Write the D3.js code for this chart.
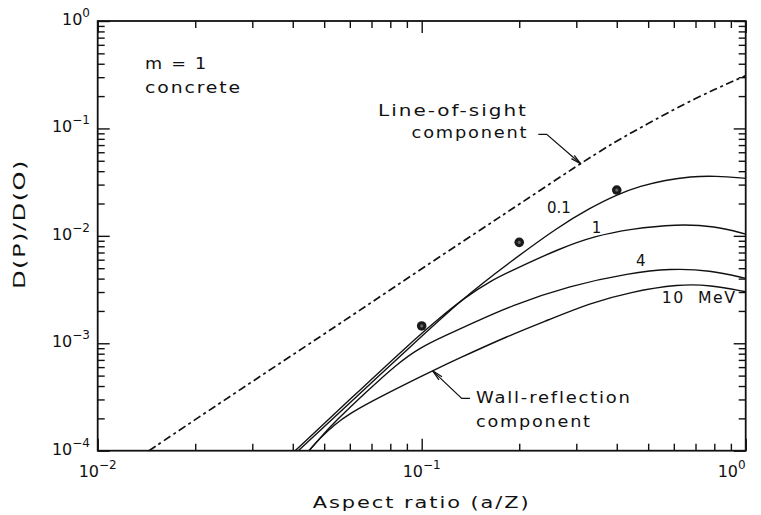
<!DOCTYPE html>
<html><head><meta charset="utf-8">
<script src="https://cdn.jsdelivr.net/npm/d3@7"></script>
<style>
body{margin:0;background:#fff}
text{font-family:"DejaVu Sans",sans-serif;fill:#111}
</style>
</head><body>
<svg id="c" width="761" height="515"></svg>
<script>
// ---- data ----
const xDomain = [0.01, 1];
const yDomain = [1e-4, 1];
const xTickExps = [-2, -1, 0];
const yTickExps = [-4, -3, -2, -1, 0];
const xTitle = "Aspect ratio (a/Z)";
const yTitle = "D(P)/D(O)";

const lineOfSight = [[0.0144,1.0e-4],[0.02,1.95e-4],[0.03,4.4e-4],[0.05,1.22e-3],[0.07,2.4e-3],[0.1,4.95e-3],
  [0.15,0.0111],[0.2,0.0197],[0.3,0.0445],[0.4,0.077],[0.5,0.111],[0.6,0.150],[0.7,0.190],[0.8,0.230],[0.9,0.270],[1.0,0.31]];
const mev01 = [[0.04159,1e-4],[0.06006,2.80e-4],[0.09202,9.22e-4],[0.1341,2.636e-3],[0.1873,5.70e-3],[0.2634,0.01208],
  [0.3307,0.01815],[0.4007,0.02424],[0.4732,0.02909],[0.5651,0.03308],[0.6750,0.03565],[0.8061,0.03620],[1.0,0.03430]];
const mev1 = [[0.04067,1e-4],[0.06006,3.004e-4],[0.09202,9.98e-4],[0.1139,1.735e-3],[0.1360,2.664e-3],[0.1625,3.794e-3],
  [0.1941,4.909e-3],[0.2672,7.65e-3],[0.3426,9.957e-3],[0.4395,0.01157],[0.6124,0.01288],[0.8034,0.01234],[1.0,0.01039]];
const mev4 = [[0.04489,1e-4],[0.04853,1.310e-4],[0.05399,1.866e-4],[0.06683,3.438e-4],[0.08372,6.40e-4],[0.09879,9.12e-4],
  [0.1180,1.179e-3],[0.1461,1.575e-3],[0.1873,2.220e-3],[0.2869,3.445e-3],[0.4395,4.503e-3],[0.5841,4.961e-3],[0.7758,4.80e-3],[1.0,4.02e-3]];
const mev10 = [[0.04489,1e-4],[0.04853,1.310e-4],[0.05399,1.769e-4],[0.06006,2.215e-4],[0.06925,2.835e-4],[0.09202,4.38e-4],
  [0.1081,5.54e-4],[0.1267,6.98e-4],[0.1873,1.192e-3],[0.2454,1.644e-3],[0.3307,2.366e-3],[0.4395,2.997e-3],[0.6243,3.558e-3],
  [0.7758,3.482e-3],[1.0,3.017e-3]];
const measured = [[0.1,1.45e-3],[0.2,8.7e-3],[0.4,0.0267]];

const curveLabels = [
  {text:"0.1", x:0.2435, y:0.0163, w:null},
  {text:"1", x:0.3347, y:0.01069, w:null},
  {text:"4", x:0.4585, y:5.23e-3, w:null},
  {text:"10  MeV", x:0.5504, y:2.38e-3, w:75}
];
const notes = [
  {text:"m = 1", x:0.0140, y:0.355, w:63},
  {text:"concrete", x:0.0140, y:0.212, w:97},
  {text:"Line-of-sight", x:0.0733, y:0.1304, w:150},
  {text:"component", x:0.0931, y:0.0814, w:116.6},
  {text:"Wall-reflection", x:0.1472, y:2.757e-4, w:155.7},
  {text:"component", x:0.1472, y:1.669e-4, w:115.7}
];
const losArrow = [[0.2291,0.0881],[0.2431,0.0881],[0.3102,0.0466]];
const wallArrow = [[0.1410,3.07e-4],[0.1329,3.07e-4],[0.1081,5.54e-4]];

// ---- chart ----
const svg = d3.select("#c");
const L=97.7, R=745.7, T=21, B=450.7;
const x = d3.scaleLog().domain(xDomain).range([L,R]);
const y = d3.scaleLog().domain(yDomain).range([B,T]);

const majorX = xTickExps.map(e=>Math.pow(10,e));
const majorY = yTickExps.map(e=>Math.pow(10,e));
const minorX=[], minorY=[];
for(let e=xTickExps[0]; e<xTickExps[xTickExps.length-1]; e++) for(let k=2;k<=9;k++) minorX.push(k*Math.pow(10,e));
for(let e=yTickExps[0]; e<yTickExps[yTickExps.length-1]; e++) for(let k=2;k<=9;k++) minorY.push(k*Math.pow(10,e));

function ticks(axisFn, scale, vals, len, tr){
  svg.append("g").attr("transform",tr)
    .call(axisFn(scale).tickValues(vals).tickSize(-len).tickFormat(""))
    .call(g=>g.select(".domain").remove())
    .selectAll("line").attr("stroke","#111").attr("stroke-width",1.4);
}
ticks(d3.axisBottom,x,majorX,12,`translate(0,${B})`);
ticks(d3.axisBottom,x,minorX,7,`translate(0,${B})`);
ticks(d3.axisTop,x,majorX,12,`translate(0,${T})`);
ticks(d3.axisTop,x,minorX,7,`translate(0,${T})`);
ticks(d3.axisLeft,y,majorY,12,`translate(${L},0)`);
ticks(d3.axisLeft,y,minorY,7,`translate(${L},0)`);
ticks(d3.axisRight,y,majorY,12,`translate(${R},0)`);
ticks(d3.axisRight,y,minorY,7,`translate(${R},0)`);

svg.append("rect").attr("x",L).attr("y",T).attr("width",R-L).attr("height",B-T)
  .attr("fill","none").attr("stroke","#111").attr("stroke-width",1.8);

// tick labels
xTickExps.forEach(e=>{
  const t = svg.append("text").attr("x", x(Math.pow(10,e)) + (e===0?-14:0)).attr("y",477)
    .attr("text-anchor","middle").attr("font-size",16);
  t.append("tspan").text("10");
  t.append("tspan").attr("dy",-8).attr("font-size",12).text(e===0?"0":"\u2212"+Math.abs(e));
});
yTickExps.forEach(e=>{
  const t = svg.append("text").attr("x",90).attr("y", y(Math.pow(10,e))+4)
    .attr("text-anchor","end").attr("font-size",16);
  t.append("tspan").text("10");
  t.append("tspan").attr("dy",-8).attr("font-size",12).text(e===0?"0":"\u2212"+Math.abs(e));
});

// titles
svg.append("text").attr("x",(L+R)/2).attr("y",508).attr("text-anchor","middle")
  .attr("font-size",16).attr("letter-spacing",1.5).attr("textLength",218).attr("lengthAdjust","spacingAndGlyphs").text(xTitle);
svg.append("text").attr("transform","translate(25,224) rotate(-90)").attr("text-anchor","middle")
  .attr("font-size",16).attr("letter-spacing",1).attr("textLength",130).attr("lengthAdjust","spacingAndGlyphs").text(yTitle);

// curves
const line = d3.line().x(d=>x(d[0])).y(d=>y(d[1])).curve(d3.curveBasis);
svg.append("path").datum(lineOfSight).attr("d",line).attr("fill","none")
  .attr("stroke","#111").attr("stroke-width",1.7).attr("stroke-dasharray","8,3.5,3,3.5");
[mev01, mev1, mev4, mev10].forEach(s=>{
  svg.append("path").datum(s).attr("d",line).attr("fill","none")
    .attr("stroke","#111").attr("stroke-width",1.4);
});

// measured points
svg.selectAll(".dot").data(measured).enter().append("circle")
  .attr("cx",d=>x(d[0])).attr("cy",d=>y(d[1])).attr("r",4.8).attr("fill","#1a1a1a");
svg.selectAll(".dotc").data(measured).enter().append("circle")
  .attr("cx",d=>x(d[0])).attr("cy",d=>y(d[1])).attr("r",1.6).attr("fill","#666");

// labels
curveLabels.concat(notes).forEach(l=>{
  const t = svg.append("text").attr("x",x(l.x)).attr("y",y(l.y)).attr("font-size",15)
    .style("white-space","pre").text(l.text);
  if(l.w){ t.attr("letter-spacing",1.5).attr("textLength",l.w).attr("lengthAdjust","spacingAndGlyphs"); }
});

// arrows
const straight = d3.line().x(d=>x(d[0])).y(d=>y(d[1]));
function arrow(pts){
  svg.append("path").datum(pts).attr("d",straight).attr("fill","none").attr("stroke","#111").attr("stroke-width",1.2);
  const a=pts[pts.length-2], b=pts[pts.length-1];
  const x1=x(a[0]), y1=y(a[1]), x2=x(b[0]), y2=y(b[1]);
  const ang=Math.atan2(y2-y1,x2-x1), len=11, sp=0.2;
  const head=[[x2-len*Math.cos(ang-sp), y2-len*Math.sin(ang-sp)],[x2,y2],[x2-len*Math.cos(ang+sp), y2-len*Math.sin(ang+sp)]];
  svg.append("path").attr("d",d3.line()(head)).attr("fill","none").attr("stroke","#111").attr("stroke-width",1.2);
}
arrow(losArrow);
arrow(wallArrow);
</script>
</body></html>
